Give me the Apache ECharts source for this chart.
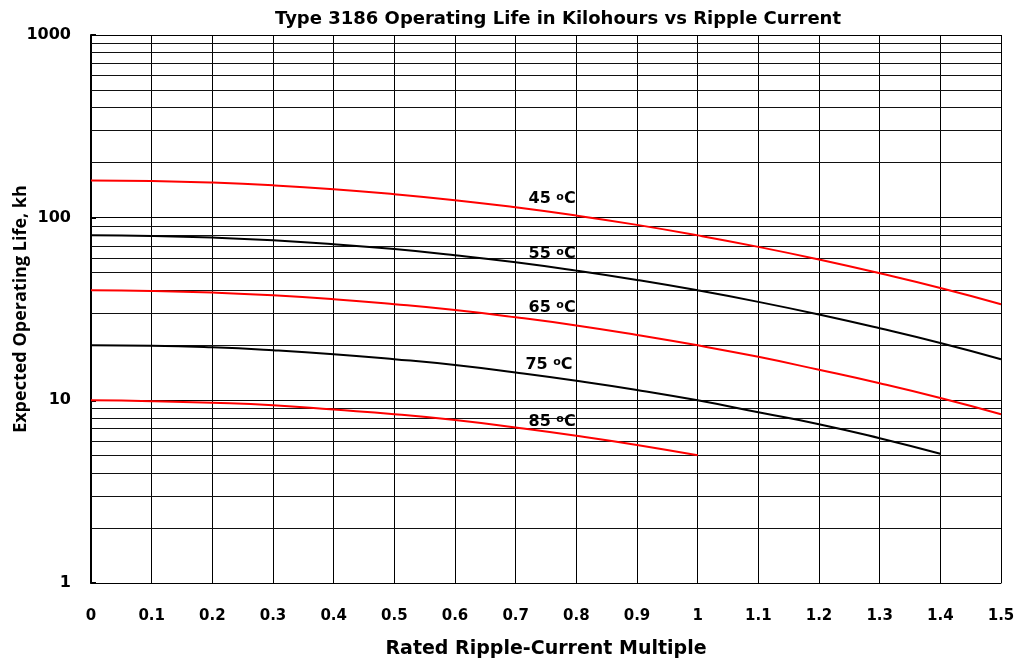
<!DOCTYPE html>
<html><head><meta charset="utf-8">
<script src="https://cdn.jsdelivr.net/npm/echarts@6/dist/echarts.min.js"></script>
<style>html,body{margin:0;padding:0;background:#fff}#c{width:1017px;height:660px}</style>
</head><body><div id="c"></div>
<script>
var xValues = [0, 0.1, 0.2, 0.3, 0.4, 0.5, 0.6, 0.7, 0.8, 0.9, 1.0, 1.1, 1.2, 1.3, 1.4, 1.5];
var life45 = [160, 158.9, 155.6, 150.3, 143.2, 134.5, 124.7, 113.9, 102.7, 91.3, 80, 69.2, 59.0, 49.6, 41.2, 33.6];
var life55 = [80, 79.4, 77.8, 75.2, 71.6, 67.3, 62.3, 57.0, 51.3, 45.6, 40, 34.6, 29.5, 24.8, 20.6, 16.8];
var life65 = [40, 39.7, 38.9, 37.6, 35.8, 33.6, 31.2, 28.5, 25.7, 22.8, 20, 17.3, 14.7, 12.4, 10.3, 8.4];
var life75 = [20, 19.9, 19.5, 18.8, 17.9, 16.8, 15.6, 14.2, 12.8, 11.4, 10, 8.6, 7.4, 6.2, 5.1];
var life85 = [10, 9.9, 9.7, 9.4, 8.9, 8.4, 7.8, 7.1, 6.4, 5.7, 5.0];
var seriesNames = ['45', '55', '65', '75', '85'];
var seriesColors = ['#ff0000', '#000000', '#ff0000', '#000000', '#ff0000'];
var labelX = [0.76, 0.76, 0.76, 0.755, 0.76];
var labelY = [126, 63, 32, 15.6, 7.6];
var minorGrid = [2,3,4,5,6,7,8,9,20,30,40,50,60,70,80,90,200,300,400,500,600,700,800,900];
var FONT = '"DejaVu Sans", sans-serif';
var FONT2 = '"Open Sans", "DejaVu Sans", sans-serif';

function pairs(vals) { return vals.map(function (v, i) { return [xValues[i], v]; }); }
var allData = [life45, life55, life65, life75, life85];

var series = allData.map(function (d, i) {
  return {
    type: 'line', name: seriesNames[i], data: pairs(d), smooth: true, showSymbol: false,
    lineStyle: { color: seriesColors[i], width: 2 }, z: 5, silent: true,
    markPoint: {
      symbol: 'circle', symbolSize: 1, silent: true,
      itemStyle: { color: 'rgba(0,0,0,0)' },
      data: [{ coord: [labelX[i], labelY[i]], label: {
        show: true, position: 'inside',
        formatter: '{n|' + seriesNames[i] + ' }{o|o}{c|C}',
        rich: {
          n: { fontFamily: FONT, fontWeight: 'bold', fontSize: 16, color: '#000' },
          o: { fontFamily: FONT, fontWeight: 'bold', fontSize: 11, color: '#000', verticalAlign: 'top', padding: [0,0,4,0] },
          c: { fontFamily: FONT, fontWeight: 'bold', fontSize: 16, color: '#000' }
        }
      } }]
    }
  };
});
series.push({
  type: 'line', data: [], silent: true,
  markLine: {
    symbol: 'none', silent: true, animation: false,
    label: { show: false },
    lineStyle: { color: '#111', width: 1, type: 'solid' },
    data: minorGrid.map(function (v) { return { yAxis: v }; })
  }
});

var chart = echarts.init(document.getElementById('c'));
chart.setOption({
  animation: false,
  backgroundColor: '#fff',
  title: {
    text: 'Type 3186 Operating Life in Kilohours vs Ripple Current',
    left: 553, top: 5, textAlign: 'center',
    textStyle: { fontFamily: FONT, fontWeight: 'bold', fontSize: 18, color: '#000' }
  },
  grid: { left: 91, right: 16, top: 35, bottom: 77, containLabel: false, outerBoundsMode: 'none' },
  xAxis: {
    type: 'value', min: 0, max: 1.5, interval: 0.1,
    name: 'Rated Ripple-Current Multiple', nameLocation: 'middle', nameGap: 57,
    nameMoveOverlap: false,
    nameTextStyle: { fontFamily: FONT, fontWeight: 'bold', fontSize: 19, color: '#000' },
    axisLine: { show: true, lineStyle: { color: '#000', width: 1 } },
    axisTick: { show: false },
    axisLabel: { margin: 26, fontFamily: FONT, fontWeight: 'bold', fontSize: 15, color: '#000',
      formatter: function (v) { return String(Math.round(v * 10) / 10); } },
    splitLine: { show: true, lineStyle: { color: '#000', width: 1 } }
  },
  yAxis: {
    type: 'log', logBase: 10, min: 1, max: 1000,
    name: 'Expected Operating Life, kh', nameLocation: 'middle', nameGap: 61,
    nameMoveOverlap: false,
    nameTextStyle: { fontFamily: FONT2, fontWeight: 'bold', fontSize: 18, color: '#000' },
    axisLine: { show: true, lineStyle: { color: '#000', width: 2 } },
    axisTick: { show: true, inside: true, length: 5, lineStyle: { color: '#000', width: 2 } },
    axisLabel: { margin: 20, fontFamily: FONT, fontWeight: 'bold', fontSize: 16, color: '#000',
      formatter: function (v) { return String(v); } },
    splitLine: { show: true, lineStyle: { color: '#000', width: 1 } }
  },
  series: series
});
</script></body></html>
